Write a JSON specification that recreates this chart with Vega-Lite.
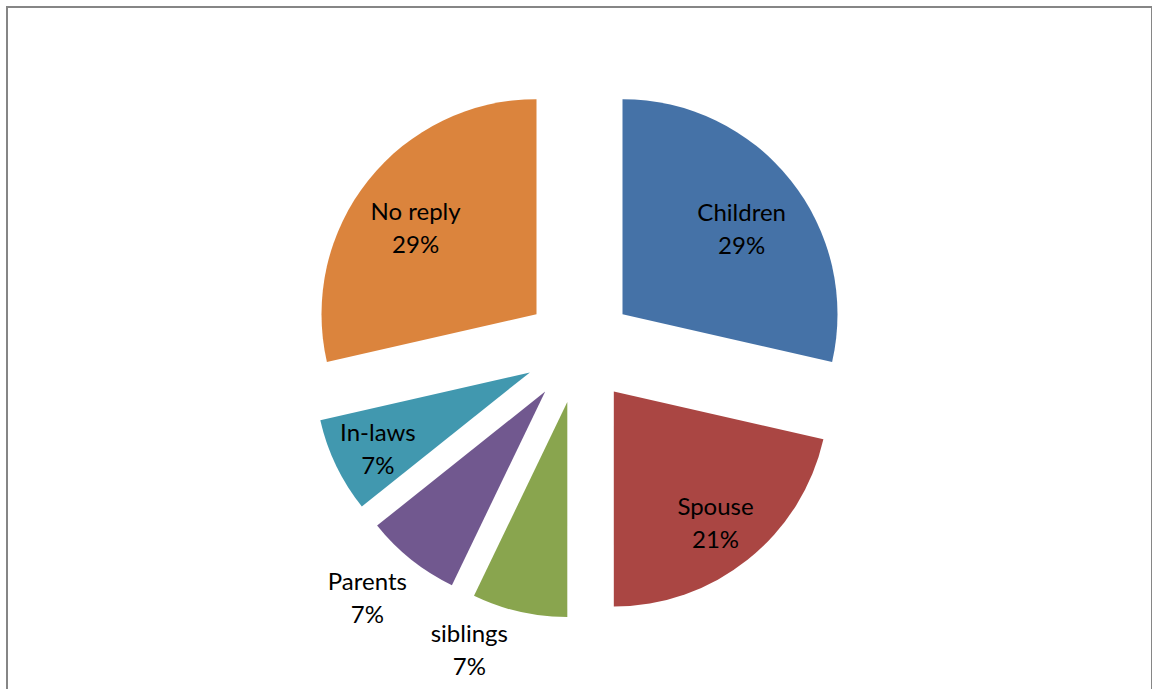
{
  "$schema": "https://vega.github.io/schema/vega-lite/v6.json",
  "width": 1145,
  "height": 683,
  "autosize": "none",
  "padding": {"left": 7, "top": 7, "right": 0, "bottom": 0},
  "background": "white",
  "view": {"stroke": "#868686", "strokeWidth": 2},
  "data": {
    "values": [
      {"category": "Children", "value": 4, "label": "Children\n29%"},
      {"category": "Spouse", "value": 3, "label": "Spouse\n21%"},
      {"category": "siblings", "value": 1, "label": "siblings\n7%"},
      {"category": "Parents", "value": 1, "label": "Parents\n7%"},
      {"category": "In-laws", "value": 1, "label": "In-laws\n7%"},
      {"category": "No reply", "value": 4, "label": "No reply\n29%"}
    ]
  },
  "transform": [
    {"stack": "value", "groupby": [], "as": ["start", "end"]}
  ],
  "layer": [
    {
      "transform": [{"filter": "datum.category === 'Children'"}],
      "layer": [
        {
          "mark": {"type": "arc", "outerRadius": 215, "xOffset": 43, "yOffset": -34.3, "color": "#4572A7"},
          "encoding": {
            "theta": {"field": "start", "type": "quantitative", "scale": {"domain": [0, 14]}},
            "theta2": {"field": "end"}
          }
        },
        {
          "mark": {"type": "text", "radius": 201, "thetaOffset": 0.8976, "xOffset": 5, "yOffset": -9.5, "font": "Lato", "fontSize": 24, "lineHeight": 33, "lineBreak": "\n", "align": "center", "baseline": "middle", "color": "#000000"},
          "encoding": {
            "theta": {"field": "start", "type": "quantitative", "scale": {"domain": [0, 14]}},
            "text": {"field": "label"}
          }
        }
      ]
    },
    {
      "transform": [{"filter": "datum.category === 'Spouse'"}],
      "layer": [
        {
          "mark": {"type": "arc", "outerRadius": 215, "xOffset": 34.3, "yOffset": 43, "color": "#AA4643"},
          "encoding": {
            "theta": {"field": "start", "type": "quantitative", "scale": {"domain": [0, 14]}},
            "theta2": {"field": "end"}
          }
        },
        {
          "mark": {"type": "text", "radius": 223, "thetaOffset": 0.6732, "xOffset": -3, "yOffset": -14.5, "font": "Lato", "fontSize": 24, "lineHeight": 33, "lineBreak": "\n", "align": "center", "baseline": "middle", "color": "#000000"},
          "encoding": {
            "theta": {"field": "start", "type": "quantitative", "scale": {"domain": [0, 14]}},
            "text": {"field": "label"}
          }
        }
      ]
    },
    {
      "transform": [{"filter": "datum.category === 'siblings'"}],
      "layer": [
        {
          "mark": {"type": "arc", "outerRadius": 215, "xOffset": -12.2, "yOffset": 53.6, "color": "#89A54E"},
          "encoding": {
            "theta": {"field": "start", "type": "quantitative", "scale": {"domain": [0, 14]}},
            "theta2": {"field": "end"}
          }
        },
        {
          "mark": {"type": "text", "radius": 320, "thetaOffset": 0.2244, "xOffset": -39, "yOffset": -25.5, "font": "Lato", "fontSize": 24, "lineHeight": 33, "lineBreak": "\n", "align": "center", "baseline": "middle", "color": "#000000"},
          "encoding": {
            "theta": {"field": "start", "type": "quantitative", "scale": {"domain": [0, 14]}},
            "text": {"field": "label"}
          }
        }
      ]
    },
    {
      "transform": [{"filter": "datum.category === 'Parents'"}],
      "layer": [
        {
          "mark": {"type": "arc", "outerRadius": 215, "xOffset": -34.3, "yOffset": 43, "color": "#71588F"},
          "encoding": {
            "theta": {"field": "start", "type": "quantitative", "scale": {"domain": [0, 14]}},
            "theta2": {"field": "end"}
          }
        },
        {
          "mark": {"type": "text", "radius": 329, "thetaOffset": 0.2244, "xOffset": -7, "yOffset": -22.5, "font": "Lato", "fontSize": 24, "lineHeight": 33, "lineBreak": "\n", "align": "center", "baseline": "middle", "color": "#000000"},
          "encoding": {
            "theta": {"field": "start", "type": "quantitative", "scale": {"domain": [0, 14]}},
            "text": {"field": "label"}
          }
        }
      ]
    },
    {
      "transform": [{"filter": "datum.category === 'In-laws'"}],
      "layer": [
        {
          "mark": {"type": "arc", "outerRadius": 215, "xOffset": -49.6, "yOffset": 23.9, "color": "#4198AF"},
          "encoding": {
            "theta": {"field": "start", "type": "quantitative", "scale": {"domain": [0, 14]}},
            "theta2": {"field": "end"}
          }
        },
        {
          "mark": {"type": "text", "radius": 226, "thetaOffset": 0.2244, "xOffset": 2, "yOffset": -12.5, "font": "Lato", "fontSize": 24, "lineHeight": 33, "lineBreak": "\n", "align": "center", "baseline": "middle", "color": "#000000"},
          "encoding": {
            "theta": {"field": "start", "type": "quantitative", "scale": {"domain": [0, 14]}},
            "text": {"field": "label"}
          }
        }
      ]
    },
    {
      "transform": [{"filter": "datum.category === 'No reply'"}],
      "layer": [
        {
          "mark": {"type": "arc", "outerRadius": 215, "xOffset": -43, "yOffset": -34.3, "color": "#DB843D"},
          "encoding": {
            "theta": {"field": "start", "type": "quantitative", "scale": {"domain": [0, 14]}},
            "theta2": {"field": "end"}
          }
        },
        {
          "mark": {"type": "text", "radius": 202, "thetaOffset": 0.8976, "xOffset": -6, "yOffset": -9.5, "font": "Lato", "fontSize": 24, "lineHeight": 33, "lineBreak": "\n", "align": "center", "baseline": "middle", "color": "#000000"},
          "encoding": {
            "theta": {"field": "start", "type": "quantitative", "scale": {"domain": [0, 14]}},
            "text": {"field": "label"}
          }
        }
      ]
    }
  ]
}
